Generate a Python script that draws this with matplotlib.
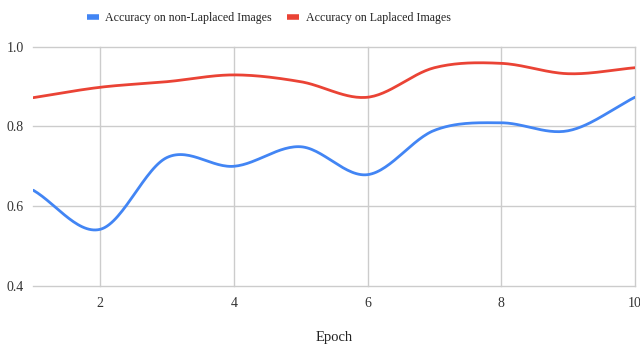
import numpy as np
import matplotlib
matplotlib.use("Agg")
import matplotlib.pyplot as plt
from matplotlib.lines import Line2D

# accuracy per epoch
epochs = [1, 2, 3, 4, 5, 6, 7, 8, 9, 10]
acc_plain = [0.640, 0.542, 0.722, 0.700, 0.749, 0.679, 0.790, 0.809, 0.789, 0.873]
acc_laplace = [0.872, 0.898, 0.912, 0.929, 0.912, 0.873, 0.947, 0.958, 0.932, 0.947]

labels = ["Accuracy on non-Laplaced Images", "Accuracy on Laplaced Images"]
colors = ["#4285F4", "#EA4335"]


def smooth(x, y, n=30):
    # catmull-rom style cubic hermite through the points
    x = np.asarray(x, float)
    y = np.asarray(y, float)
    m = np.zeros_like(y)
    m[1:-1] = (y[2:] - y[:-2]) / (x[2:] - x[:-2])
    m[0] = (y[1] - y[0]) / (x[1] - x[0])
    m[-1] = (y[-1] - y[-2]) / (x[-1] - x[-2])
    xs, ys = [], []
    for i in range(len(x) - 1):
        h = x[i + 1] - x[i]
        t = np.linspace(0, 1, n, endpoint=False)
        h00 = 2 * t**3 - 3 * t**2 + 1
        h10 = t**3 - 2 * t**2 + t
        h01 = -2 * t**3 + 3 * t**2
        h11 = t**3 - t**2
        xs.append(x[i] + t * h)
        ys.append(h00 * y[i] + h10 * h * m[i] + h01 * y[i + 1] + h11 * h * m[i + 1])
    xs.append([x[-1]])
    ys.append([y[-1]])
    return np.concatenate(xs), np.concatenate(ys)


plt.rcParams["font.family"] = ["Liberation Serif", "DejaVu Serif"]
fig = plt.figure(figsize=(6.4, 3.45), dpi=100)
ax = fig.add_axes([0.052, 0.171, 0.940, 0.694])

for ys, c, lab in zip([acc_plain, acc_laplace], colors, labels):
    sx, sy = smooth(epochs, ys)
    ax.plot(sx, sy, color=c, lw=2, label=lab, solid_capstyle="round", zorder=3)

ax.set_xlim(1, 10)
ax.set_ylim(0.4, 1.0)
ax.set_xticks([2, 4, 6, 8, 10])
ax.set_yticks([0.4, 0.6, 0.8, 1.0])
ax.set_yticklabels(["0.4", "0.6", "0.8", "1.0"])
ax.grid(True, color="#cccccc", lw=1)
for gl in ax.get_xgridlines() + ax.get_ygridlines():
    gl.set_clip_on(False)
ax.set_axisbelow(True)
for s in ax.spines.values():
    s.set_visible(False)
ax.tick_params(length=0, labelsize=10, colors="#333333")
ax.tick_params(axis="y", pad=7)
ax.tick_params(axis="x", pad=8)

ax.set_xlabel("Epoch", fontsize=10.5, color="#222222", labelpad=15)

handles = [Line2D([], [], color=c, lw=4, solid_capstyle="butt") for c in colors]
fig.legend(handles, labels, loc="center left", bbox_to_anchor=(0.126, 0.948), ncol=2,
           frameon=False, fontsize=8.6, handlelength=1.0, handletextpad=0.55,
           columnspacing=1.3, labelcolor="#222222", borderpad=0)

fig.savefig("out.png", dpi=100)
